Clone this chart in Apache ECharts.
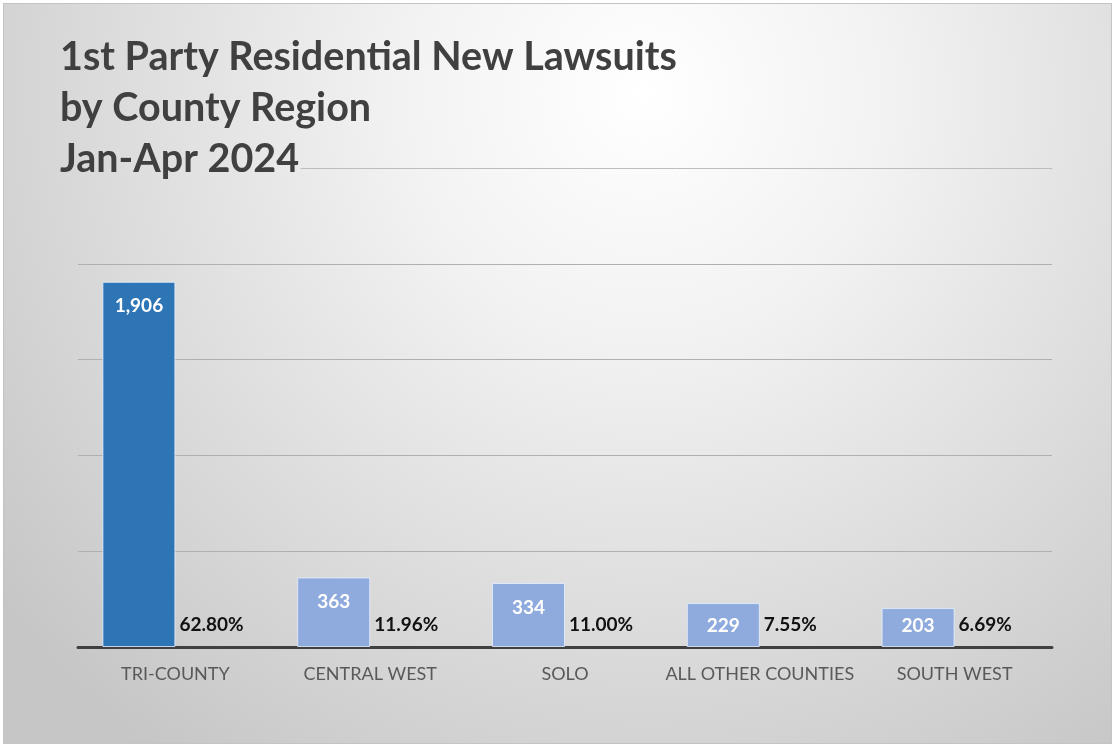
<!DOCTYPE html>
<html>
<head>
<meta charset="utf-8">
<script src="https://cdn.jsdelivr.net/npm/echarts@6/dist/echarts.min.js"></script>
<style>
  html, body { margin: 0; padding: 0; background: #ffffff; }
  #frame {
    position: absolute; left: 3px; top: 3px;
    width: 1109px; height: 741px;
    border: 1px solid #c4c4c4; box-sizing: border-box;
  }
  #chart { position: absolute; left: 0; top: 0; width: 1107px; height: 739px; }
</style>
</head>
<body>
<div id="frame"><div id="chart"></div></div>
<script>
// data
var regions = ["TRI-COUNTY", "CENTRAL WEST", "SOLO", "ALL OTHER COUNTIES", "SOUTH WEST"];
var lawsuits = [1906, 363, 334, 229, 203];
var shares = [0.6280, 0.1196, 0.1100, 0.0755, 0.0669];
var barColors = ["#2E75B6", "#8FAADC", "#8FAADC", "#8FAADC", "#8FAADC"];

var font = "Lato, 'Open Sans', sans-serif";
var myChart = echarts.init(document.getElementById("chart"));

var option = {
  backgroundColor: {
    type: "radial", x: 640, y: 90, r: 820, global: true,
    colorStops: [
      { offset: 0, color: "#ffffff" },
      { offset: 0.3, color: "#f2f2f2" },
      { offset: 1, color: "#c6c6c6" }
    ]
  },
  animation: false,
  title: {
    text: "1st Party Residential New Lawsuits\nby County Region\nJan-Apr 2024",
    left: 56,
    top: 28,
    padding: 0,
    textStyle: {
      fontFamily: font,
      fontWeight: "bold",
      fontSize: 39.5,
      lineHeight: 51,
      color: "#404040"
    }
  },
  grid: [
    { left: 74, right: 59, top: 164, bottom: 96, containLabel: false },
    // short top gridline that starts after the title, as in the original
    { left: 297, right: 59, top: 164, height: 10 }
  ],
  xAxis: [
    {
      type: "category",
      data: regions,
      axisLine: { show: true, lineStyle: { color: "#404040", width: 3 } },
      axisTick: { show: false },
      axisLabel: {
        interval: 0, fontFamily: font, fontSize: 18, color: "#595959", margin: 18
      }
    },
    {
      gridIndex: 1, type: "value", position: "top", min: 0, max: 1,
      axisLine: { show: true, onZero: false, lineStyle: { color: "#bdbdbd", width: 1 } },
      axisTick: { show: false }, axisLabel: { show: false }, splitLine: { show: false }
    }
  ],
  yAxis: [
    {
      type: "value",
      min: 0,
      max: 2500,
      interval: 500,
      axisLine: { show: false },
      axisTick: { show: false },
      axisLabel: { show: false },
      splitLine: {
        show: true,
        showMaxLine: false,
        lineStyle: { color: "#b0b0b0", width: 1 }
      }
    },
    {
      gridIndex: 1, type: "value", min: 0, max: 1, show: false
    }
  ],
  series: [
    {
      name: "Lawsuits",
      type: "bar",
      barWidth: 73,
      barGap: "0%",
      data: lawsuits.map(function (v, i) {
        var item = { value: v, itemStyle: { color: barColors[i] } };
        // short bars: label sits at a fixed height above the axis
        if (v < 300) item.label = { position: "insideBottom", distance: 12 };
        return item;
      }),
      itemStyle: { borderColor: "rgba(230,240,255,0.8)", borderWidth: 1 },
      label: {
        show: true,
        position: "insideTop",
        distance: 15,
        fontFamily: font,
        fontWeight: "bold",
        fontSize: 19,
        color: "#ffffff",
        formatter: function (p) {
          return p.value.toLocaleString("en-US");
        }
      }
    },
    {
      name: "Share",
      type: "bar",
      barWidth: 73,
      data: shares,
      itemStyle: { color: "rgba(0,0,0,0)" },
      label: {
        show: true,
        position: [4, -22],
        align: "left",
        verticalAlign: "middle",
        fontFamily: font,
        fontWeight: "bold",
        fontSize: 19,
        color: "#111111",
        formatter: function (p) {
          return (p.value * 100).toFixed(2) + "%";
        }
      }
    }
  ]
};
myChart.setOption(option);
</script>
</body>
</html>
